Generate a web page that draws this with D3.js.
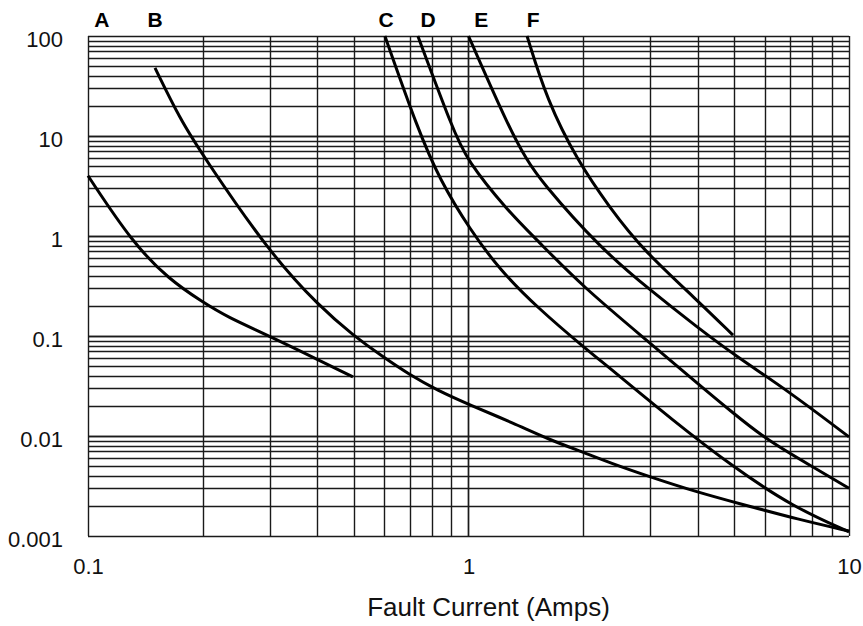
<!DOCTYPE html>
<html>
<head>
<meta charset="utf-8">
<script src="https://cdn.jsdelivr.net/npm/d3@7"></script>
<style>
  body { margin: 0; background: #fff; }
  .tick text { font-family: "Liberation Sans", Arial, sans-serif; font-size: 22px; }
  .title { font-family: "Liberation Sans", Arial, sans-serif; font-size: 26px; }
  .curve-label { font-family: "Liberation Sans", Arial, sans-serif; font-weight: bold; font-size: 21px; }
</style>
</head>
<body>
<div id="chart"></div>
<script>
// fuse curves (current in amps, time in seconds)
var labels = ["A", "B", "C", "D", "E", "F"];

var ampsA = [0.1, 0.131, 0.164, 0.2, 0.232, 0.3, 0.497];
var timeA = [4.0, 0.85, 0.363, 0.219, 0.155, 0.1, 0.039];

var ampsB = [0.15, 0.175, 0.2, 0.3, 0.407, 0.497, 0.596, 0.702, 0.826, 1.01, 1.31, 1.64, 2.0, 2.35, 3.0, 3.99, 5.08, 7.43, 10];
var timeB = [48, 14.5, 6.46, 0.676, 0.195, 0.102, 0.0617, 0.0407, 0.0288, 0.0204, 0.0135, 0.0091, 0.0069, 0.0054, 0.0039, 0.00275, 0.00214, 0.00145, 0.00112];

var ampsC = [0.603, 0.737, 0.841, 1.01, 1.21, 1.51, 2.05, 2.35, 3.43, 4.96, 7.13, 10];
var timeC = [100, 11.5, 3.63, 1.15, 0.457, 0.195, 0.0724, 0.0479, 0.0145, 0.0049, 0.00195, 0.0011];

var ampsD = [0.736, 0.911, 0.99, 1.262, 1.514, 2.0, 3.0, 3.986, 4.956, 6.087, 8.04, 10];
var timeD = [100, 11.5, 5.75, 1.82, 0.912, 0.309, 0.0851, 0.0339, 0.017, 0.0091, 0.0049, 0.003];

var ampsE = [1.0, 1.285, 1.425, 1.541, 2.216, 3.0, 3.986, 5.08, 6.87, 10];
var timeE = [100, 11.5, 5.75, 3.63, 0.759, 0.288, 0.123, 0.0617, 0.0288, 0.0098];

var ampsF = [1.425, 1.608, 1.928, 2.354, 2.875, 3.986, 4.956];
var timeF = [100, 22.9, 5.75, 1.905, 0.724, 0.229, 0.102];

var xTicks = [0.1, 1, 10];
var yTicks = [0.001, 0.01, 0.1, 1, 10, 100];

var allAmps = [ampsA, ampsB, ampsC, ampsD, ampsE, ampsF];
var allTimes = [timeA, timeB, timeC, timeD, timeE, timeF];

var series = labels.map(function(name, i) {
    return { name: name, points: allAmps[i].map(function(a, j) { return [a, allTimes[i][j]]; }) };
});

var width = 863,
    height = 626,
    margin = { top: 36, right: 14, bottom: 90, left: 88 };

var svg = d3.select("#chart")
    .append("svg")
    .attr("width", width)
    .attr("height", height);

var x = d3.scaleLog()
    .domain([0.1, 10])
    .range([margin.left, width - margin.right]);

var y = d3.scaleLog()
    .domain([0.001, 100])
    .range([height - margin.bottom, margin.top]);

// grid: every 1..9 multiple in each decade
var xGrid = [], yGrid = [];
[0.1, 1].forEach(function(d) { for (var k = 1; k <= 10; k++) xGrid.push(d * k); });
[0.001, 0.01, 0.1, 1, 10].forEach(function(d) { for (var k = 1; k <= 10; k++) yGrid.push(d * k); });

svg.append("g")
    .selectAll("line")
    .data(xGrid)
    .enter()
    .append("line")
    .attr("x1", function(d) { return Math.round(x(d)) + 0.5; })
    .attr("x2", function(d) { return Math.round(x(d)) + 0.5; })
    .attr("y1", y(100))
    .attr("y2", y(0.001))
    .attr("stroke", "#1a1a1a")
    .attr("stroke-width", 1.4);

svg.append("g")
    .selectAll("line")
    .data(yGrid)
    .enter()
    .append("line")
    .attr("x1", x(0.1))
    .attr("x2", x(10))
    .attr("y1", function(d) { return Math.round(y(d)) + 0.5; })
    .attr("y2", function(d) { return Math.round(y(d)) + 0.5; })
    .attr("stroke", "#1a1a1a")
    .attr("stroke-width", 1.4);

// tick labels
var fmt = function(d) { return d3.format("~g")(d); };

svg.append("g")
    .attr("transform", "translate(0," + (height - margin.bottom + 19) + ")")
    .call(d3.axisBottom(x).tickValues(xTicks).tickFormat(fmt).tickSize(0))
    .call(function(g) { g.select(".domain").remove(); });

svg.append("g")
    .attr("transform", "translate(" + (margin.left - 25) + ",3)")
    .call(d3.axisLeft(y).tickValues(yTicks).tickFormat(fmt).tickSize(0).tickPadding(0))
    .call(function(g) { g.select(".domain").remove(); });

svg.selectAll(".tick text").attr("fill", "#111");

svg.append("text")
    .attr("class", "title")
    .attr("x", x(1) + 20)
    .attr("y", height - 10)
    .attr("text-anchor", "middle")
    .attr("fill", "#111")
    .text("Fault Current (Amps)");

// curves (basis spline smooths out reading noise, keeps the end points)
var line = d3.line()
    .x(function(d) { return x(d[0]); })
    .y(function(d) { return y(d[1]); })
    .curve(d3.curveBasis);

svg.append("g")
    .selectAll("path")
    .data(series)
    .enter()
    .append("path")
    .attr("d", function(d) { return line(d.points); })
    .attr("fill", "none")
    .attr("stroke", "#000")
    .attr("stroke-width", 3);

// curve letters above the plot
var labelAmps = [0.1088, 0.15, 0.607, 0.783, 1.08, 1.478];
svg.append("g")
    .selectAll("text")
    .data(labels)
    .enter()
    .append("text")
    .attr("class", "curve-label")
    .attr("x", function(d, i) { return x(labelAmps[i]); })
    .attr("y", 27)
    .attr("text-anchor", "middle")
    .attr("fill", "#000")
    .text(function(d) { return d; });
</script>
</body>
</html>
